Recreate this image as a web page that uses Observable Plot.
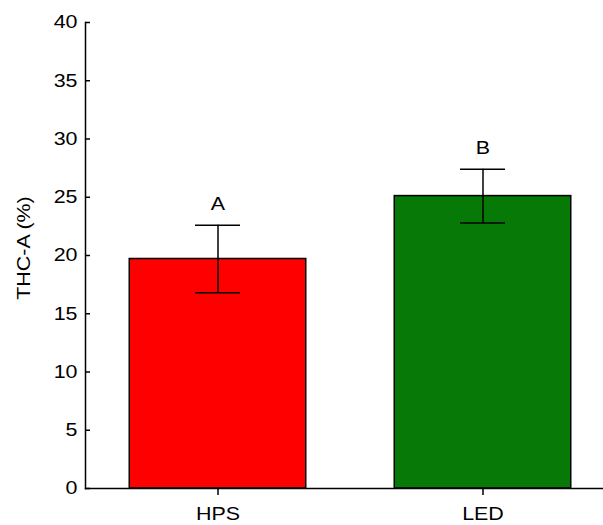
<!DOCTYPE html>
<html><head><meta charset="utf-8">
<script src="https://cdn.jsdelivr.net/npm/d3@7"></script>
<script src="https://cdn.jsdelivr.net/npm/@observablehq/plot@0.6"></script>
<style>body{margin:0;background:#fff} svg{display:block}</style>
</head><body><div id="chart"></div>
<script>
const categories = ["HPS", "LED"];
const means = [19.7, 25.1];
const errors = [2.9, 2.3];
const letters = ["A", "B"];
const colors = ["#ff0000", "#077907"];
const yTicks = [0, 5, 10, 15, 20, 25, 30, 35, 40];
const yLabel = "THC-A (%)";

const data = categories.map((c, i) => ({
  cat: c, mean: means[i], lo: means[i] - errors[i], hi: means[i] + errors[i], letter: letters[i]
}));

const font = "'Liberation Sans', Arial, sans-serif";
const fs = 18;
const svg = Plot.plot({
  width: 603, height: 525,
  marginLeft: 85, marginRight: 0, marginTop: 22, marginBottom: 37,
  style: {fontFamily: font, fontSize: fs + "px", background: "#fff", color: "#000"},
  x: {domain: categories, range: [85, 615], padding: 0},
  y: {domain: [0, 40]},
  color: {domain: categories, range: colors},
  marks: [
    Plot.barY(data, {x: "cat", y: "mean", fill: "cat", stroke: "#000", strokeWidth: 1.5, insetLeft: 44.25, insetRight: 44.25}),
    Plot.ruleX(data, {x: "cat", y1: "lo", y2: "hi", stroke: "#000", strokeWidth: 1.5}),
    Plot.tickY(data, {x: "cat", y: "lo", stroke: "#000", strokeWidth: 1.5, insetLeft: 110, insetRight: 110}),
    Plot.tickY(data, {x: "cat", y: "hi", stroke: "#000", strokeWidth: 1.5, insetLeft: 110, insetRight: 110}),
    Plot.text(data, {x: "cat", y: "hi", text: "letter", dy: -21, fontSize: fs, fill: "#000"}),
    Plot.axisY(yTicks, {anchor: "left", tickSize: 5, dx: 5, fill: "none", label: null, strokeWidth: 1.5}),
    Plot.axisY(yTicks, {anchor: "left", tickSize: 0, tickPadding: 8, label: null, fontSize: fs}),
    Plot.axisX({anchor: "bottom", tickSize: 7, tickPadding: 11.5, label: null, fontSize: fs, strokeWidth: 1.5}),
    Plot.frame({anchor: "left", strokeWidth: 1.5}),
    Plot.frame({anchor: "bottom", strokeWidth: 1.5}),
    Plot.text([yLabel], {text: d => d, frameAnchor: "left", textAnchor: "middle", lineAnchor: "middle", rotate: -90, dx: -61, dy: -7.5, fontSize: fs, fill: "#000"})
  ]
});

const s = 1.19;
svg.querySelectorAll("text").forEach(t => {
  const tr = t.getAttribute("transform");
  if (tr) {
    t.setAttribute("transform", tr + ` scale(${s},1)`);
  } else {
    const x = parseFloat(t.getAttribute("x") || "0");
    t.removeAttribute("x");
    t.setAttribute("transform", `translate(${x},0) scale(${s},1)`);
  }
});

document.getElementById("chart").appendChild(svg);
</script>
</body></html>
